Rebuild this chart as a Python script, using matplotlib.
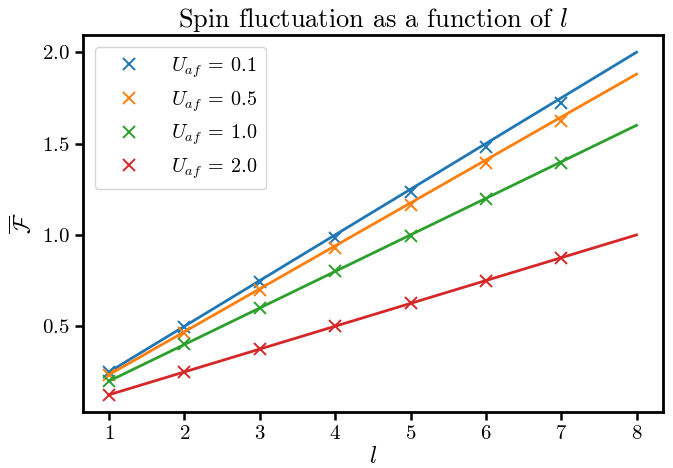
import matplotlib
matplotlib.use("Agg")
from matplotlib import pyplot as plt

plt.rcParams['font.family'] = 'serif'
plt.rcParams['font.serif'] = ['cmr10', 'DejaVu Serif']
plt.rcParams['mathtext.fontset'] = 'cm'
plt.rcParams['axes.formatter.use_mathtext'] = True
plt.rcParams['axes.unicode_minus'] = False

# donnees
l_line = [1, 2, 3, 4, 5, 6, 7, 8]
l_pts = [1, 2, 3, 4, 5, 6, 7]
u_labels = ['0.1', '0.5', '1.0', '2.0']
colors = ['#1f77b4', '#ff7f0e', '#2ca02c', '#d62728']

lines_u01 = [0.25, 0.50, 0.75, 1.00, 1.25, 1.50, 1.75, 2.00]
lines_u05 = [0.235, 0.47, 0.705, 0.94, 1.175, 1.41, 1.645, 1.88]
lines_u10 = [0.20, 0.40, 0.60, 0.80, 1.00, 1.20, 1.40, 1.60]
lines_u20 = [0.125, 0.25, 0.375, 0.50, 0.625, 0.75, 0.875, 1.00]

pts_u01 = [0.25, 0.495, 0.74, 0.985, 1.235, 1.48, 1.72]
pts_u05 = [0.235, 0.465, 0.70, 0.93, 1.165, 1.395, 1.625]
pts_u10 = [0.20, 0.40, 0.60, 0.80, 0.995, 1.195, 1.395]
pts_u20 = [0.125, 0.25, 0.375, 0.50, 0.625, 0.75, 0.875]

all_lines = [lines_u01, lines_u05, lines_u10, lines_u20]
all_pts = [pts_u01, pts_u05, pts_u10, pts_u20]

fig, ax = plt.subplots(figsize=(6.73, 4.68), dpi=100)

for lab, col, yl, yp in zip(u_labels, colors, all_lines, all_pts):
    ax.plot(l_pts, yp, 'x', color=col, markersize=8, markeredgewidth=1.4,
            label=r'$U_{af}\:=\:%s$' % lab)
    ax.plot(l_line, yl, '-', color=col, linewidth=2.0)

ax.set_xticks(l_line)
ax.set_yticks([0.5, 1.0, 1.5, 2.0])
ax.set_yticklabels(['$0.5$', '$1.0$', '$1.5$', '$2.0$'])
ax.set_xticklabels(['$%d$' % v for v in l_line])
ax.tick_params(labelsize=15, width=1.8, length=6)
for s in ax.spines.values():
    s.set_linewidth(2.0)

ax.set_title(r'Spin fluctuation as a function of $l$', fontsize=19)
ax.set_xlabel(r'$l$', fontsize=17, labelpad=2)
ax.set_ylabel(r'$\overline{\mathcal{F}}$', fontsize=17)
ax.legend(loc='upper left', fontsize=14.5, handlelength=2.6, labelspacing=0.45,
          borderaxespad=0.6)

plt.subplots_adjust(left=0.123, right=0.985, bottom=0.12, top=0.925)
plt.savefig('out.png')
plt.close()
